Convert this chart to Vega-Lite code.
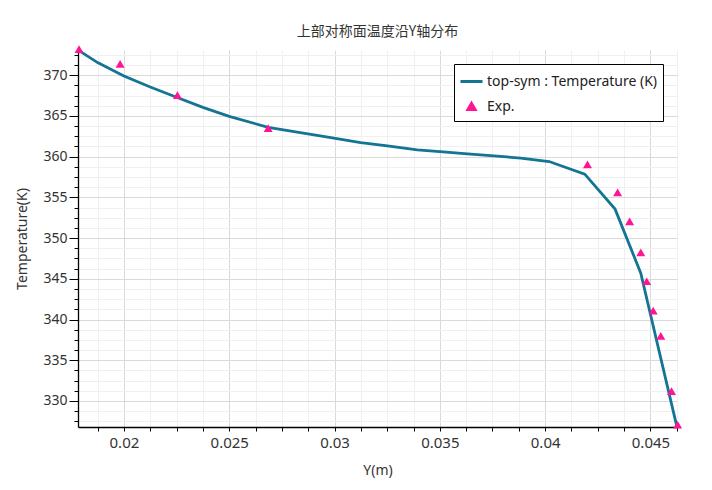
{
  "$schema": "https://vega.github.io/schema/vega-lite/v6.json",
  "autosize": {"type": "none"},
  "padding": {"left": 78, "top": 50, "right": 35, "bottom": 63},
  "width": 599,
  "height": 377,
  "background": "white",
  "title": {
    "text": "上部对称面温度沿Y轴分布",
    "font": "Noto Sans CJK SC",
    "fontSize": 14,
    "fontWeight": "normal",
    "color": "#333333",
    "offset": 6
  },
  "config": {
    "view": {"stroke": null},
    "axis": {
      "labelFont": "Noto Sans",
      "labelColor": "#333333",
      "titleFont": "Noto Sans",
      "titleFontSize": 14,
      "titleFontWeight": "normal",
      "titleColor": "#333333",
      "domainColor": "black",
      "domainWidth": 1.3,
      "tickColor": "black"
    },
    "legend": {
      "labelFont": "Noto Sans",
      "labelFontSize": 14,
      "labelColor": "#222222",
      "labelLimit": 300
    }
  },
  "datasets": {
    "sim": [
      {"y": 0.01785, "T": 373.05},
      {"y": 0.01875, "T": 371.55},
      {"y": 0.02, "T": 369.9},
      {"y": 0.02125, "T": 368.55},
      {"y": 0.0225, "T": 367.3},
      {"y": 0.02375, "T": 366.05},
      {"y": 0.025, "T": 364.95},
      {"y": 0.02685, "T": 363.6},
      {"y": 0.02997, "T": 362.27},
      {"y": 0.03124, "T": 361.73},
      {"y": 0.03251, "T": 361.33},
      {"y": 0.03393, "T": 360.83},
      {"y": 0.03501, "T": 360.63},
      {"y": 0.03631, "T": 360.34},
      {"y": 0.03757, "T": 360.1},
      {"y": 0.03884, "T": 359.82},
      {"y": 0.04019, "T": 359.4},
      {"y": 0.04188, "T": 357.85},
      {"y": 0.04332, "T": 353.56},
      {"y": 0.04454, "T": 345.7},
      {"y": 0.04624, "T": 327.0}
    ],
    "exp": [
      {"y": 0.01787, "T": 373.2},
      {"y": 0.01982, "T": 371.4},
      {"y": 0.02254, "T": 367.55},
      {"y": 0.02685, "T": 363.5},
      {"y": 0.04201, "T": 359.05},
      {"y": 0.04344, "T": 355.6},
      {"y": 0.04401, "T": 352.05},
      {"y": 0.04454, "T": 348.25},
      {"y": 0.04482, "T": 344.7},
      {"y": 0.04513, "T": 341.1},
      {"y": 0.04549, "T": 338.0},
      {"y": 0.046, "T": 331.2},
      {"y": 0.04629, "T": 327.1}
    ]
  },
  "encoding": {
    "x": {
      "field": "y",
      "type": "quantitative",
      "title": "Y(m)",
      "scale": {"domain": [0.01782, 0.04626], "nice": false, "zero": false},
      "axis": {
        "values": [0.01875, 0.02, 0.02125, 0.0225, 0.02375, 0.025, 0.02625, 0.0275, 0.02875, 0.03, 0.03125, 0.0325, 0.03375, 0.035, 0.03625, 0.0375, 0.03875, 0.04, 0.04125, 0.0425, 0.04375, 0.045, 0.04625],
        "labelExpr": "abs(datum.value*200-round(datum.value*200))<1e-6 ? format(datum.value,'~g') : ''",
        "gridColor": {"condition": {"test": "abs(datum.value*200-round(datum.value*200))<1e-6", "value": "#dadada"}, "value": "#f0f0f0"},
        "tickSize": 4,
        "labelFontSize": 15,
        "labelPadding": 4,
        "titlePadding": 13
      }
    },
    "y": {
      "field": "T",
      "type": "quantitative",
      "title": "Temperature(K)",
      "scale": {"domain": [326.8, 373.1], "nice": false, "zero": false},
      "axis": {
        "values": [327.5, 328.75, 330, 331.25, 332.5, 333.75, 335, 336.25, 337.5, 338.75, 340, 341.25, 342.5, 343.75, 345, 346.25, 347.5, 348.75, 350, 351.25, 352.5, 353.75, 355, 356.25, 357.5, 358.75, 360, 361.25, 362.5, 363.75, 365, 366.25, 367.5, 368.75, 370, 371.25, 372.5],
        "labelExpr": "abs(datum.value/5-round(datum.value/5))<1e-6 ? format(datum.value,'d') : ''",
        "gridColor": {"condition": {"test": "abs(datum.value/5-round(datum.value/5))<1e-6", "value": "#dadada"}, "value": "#f0f0f0"},
        "tickSize": {"condition": {"test": "abs(datum.value/5-round(datum.value/5))<1e-6", "value": 9}, "value": 4},
        "labelFontSize": 14,
        "labelPadding": 2,
        "titlePadding": 13
      }
    },
    "color": {
      "datum": "top-sym : Temperature (K)",
      "type": "nominal",
      "scale": {
        "domain": ["top-sym : Temperature (K)", "Exp."],
        "range": ["#137494", "#ff1493"]
      },
      "legend": {
        "title": null,
        "orient": "top-right",
        "offset": 14,
        "padding": 5,
        "rowPadding": 5,
        "strokeColor": "black",
        "fillColor": "white",
        "symbolOffset": 0,
        "labelOffset": 3,
        "encode": {
          "symbols": {
            "update": {
              "shape": {"signal": "datum.value === 'Exp.' ? 'triangle-up' : 'stroke'"},
              "size": {"signal": "datum.value === 'Exp.' ? 50 : 484"},
              "fill": {"signal": "datum.value === 'Exp.' ? '#ff1493' : 'transparent'"},
              "stroke": {"signal": "datum.value === 'Exp.' ? 'transparent' : '#137494'"},
              "strokeWidth": {"value": 3}
            }
          }
        }
      }
    }
  },
  "layer": [
    {
      "data": {"name": "sim"},
      "mark": {"type": "line", "strokeWidth": 2.8}
    },
    {
      "data": {"name": "exp"},
      "mark": {"type": "point", "shape": "triangle-up", "filled": true, "size": 80, "opacity": 1},
      "encoding": {
        "color": {"datum": "Exp.", "type": "nominal"}
      }
    }
  ]
}
